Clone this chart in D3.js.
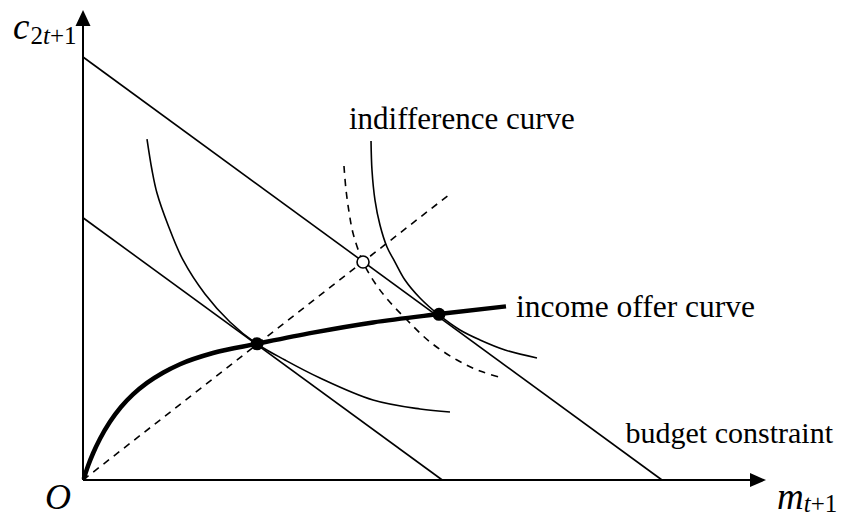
<!DOCTYPE html>
<html>
<head>
<meta charset="utf-8">
<script src="https://cdn.jsdelivr.net/npm/d3@7"></script>
<style>
  html, body { margin: 0; padding: 0; background: #fff; }
  svg { display: block; }
  text { font-family: "Liberation Serif", "Times New Roman", serif; fill: #000; }
</style>
</head>
<body>
<script>
// ---- data (arbitrary units) ----
const xAxisMax = 10;
const yAxisMax = 10;
const outerBudget = [[0, 9.0], [8.477, 0]];
const innerBudget = [[0, 5.58], [5.26, 0]];
const rayLine = [[0, 0], [5.373, 6.085]];
const incomeOfferX = [0.01, 0.073, 0.146, 0.249, 0.395, 0.556, 0.732, 0.937, 1.171, 1.420, 1.903, 2.548, 3.367, 4.246, 5.212, 6.193];
const incomeOfferY = [0.02, 0.298, 0.564, 0.877, 1.238, 1.553, 1.821, 2.066, 2.283, 2.464, 2.702, 2.898, 3.136, 3.353, 3.530, 3.694];
const ic1X = [0.937, 1.010, 1.083, 1.245, 1.464, 1.786, 2.152, 2.548, 2.958, 3.470, 4.246, 4.934, 5.373];
const ic1Y = [7.255, 6.596, 6.106, 5.426, 4.681, 3.957, 3.362, 2.894, 2.553, 2.170, 1.702, 1.511, 1.447];
const ic2X = [4.217, 4.231, 4.275, 4.348, 4.451, 4.568, 4.714, 4.934, 5.212, 5.520, 5.813, 6.179, 6.647];
const ic2Y = [7.213, 6.596, 5.957, 5.426, 4.957, 4.638, 4.255, 3.872, 3.511, 3.191, 2.979, 2.766, 2.596];
const icDashX = [3.821, 3.851, 3.895, 3.953, 4.100, 4.275, 4.466, 4.744, 5.081, 5.476, 5.813, 6.149];
const icDashY = [6.681, 6.170, 5.702, 5.255, 4.638, 4.191, 3.830, 3.404, 2.936, 2.553, 2.319, 2.170];
const filledPoints = [[2.548, 2.898], [5.212, 3.525]];
const openPoints = [[4.100, 4.638]];

// ---- layout ----
const W = 843, H = 517;
const svg = d3.select("body").append("svg").attr("width", W).attr("height", H);

const x = d3.scaleLinear().domain([0, xAxisMax]).range([83, 766]);
const y = d3.scaleLinear().domain([0, yAxisMax]).range([480, 10]);

const zip = (xs, ys) => xs.map((v, i) => [v, ys[i]]);
const straight = d3.line().x(d => x(d[0])).y(d => y(d[1]));
const smooth = d3.line().x(d => x(d[0])).y(d => y(d[1])).curve(d3.curveCatmullRom.alpha(0.5));
const mono = d3.line().x(d => x(d[0])).y(d => y(d[1])).curve(d3.curveMonotoneX);

// axes
svg.append("line").attr("x1", x(0)).attr("y1", y(0)).attr("x2", x(0)).attr("y2", y(yAxisMax) + 12)
  .attr("stroke", "#000").attr("stroke-width", 2);
svg.append("line").attr("x1", x(0)).attr("y1", y(0)).attr("x2", x(xAxisMax) - 12).attr("y2", y(0))
  .attr("stroke", "#000").attr("stroke-width", 2);
// arrowheads
const ty = y(yAxisMax), tx = x(xAxisMax);
svg.append("path").attr("d", `M${x(0)},${ty} L${x(0) - 7.5},${ty + 16} L${x(0) + 7.5},${ty + 16} Z`).attr("fill", "#000");
svg.append("path").attr("d", `M${tx},${y(0)} L${tx - 16},${y(0) - 7} L${tx - 16},${y(0) + 7} Z`).attr("fill", "#000");

// budget lines
[outerBudget, innerBudget].forEach(b => {
  svg.append("path").attr("d", straight(b)).attr("fill", "none").attr("stroke", "#000").attr("stroke-width", 1.6);
});

// dashed ray
svg.append("path").attr("d", straight(rayLine)).attr("fill", "none").attr("stroke", "#000")
  .attr("stroke-width", 1.6).attr("stroke-dasharray", "7,6");

// indifference curves
svg.append("path").attr("d", smooth(zip(ic1X, ic1Y))).attr("fill", "none").attr("stroke", "#000").attr("stroke-width", 1.6);
svg.append("path").attr("d", smooth(zip(ic2X, ic2Y))).attr("fill", "none").attr("stroke", "#000").attr("stroke-width", 1.6);
svg.append("path").attr("d", smooth(zip(icDashX, icDashY))).attr("fill", "none").attr("stroke", "#000")
  .attr("stroke-width", 1.6).attr("stroke-dasharray", "7,6");

// income offer curve
svg.append("path").attr("d", mono(zip(incomeOfferX, incomeOfferY))).attr("fill", "none").attr("stroke", "#000")
  .attr("stroke-width", 4.5).attr("stroke-linecap", "butt");

// points
svg.selectAll("circle.filled").data(filledPoints).join("circle").attr("class", "filled")
  .attr("cx", d => x(d[0])).attr("cy", d => y(d[1])).attr("r", 6.5).attr("fill", "#000");
svg.selectAll("circle.open").data(openPoints).join("circle").attr("class", "open")
  .attr("cx", d => x(d[0])).attr("cy", d => y(d[1])).attr("r", 6).attr("fill", "#fff")
  .attr("stroke", "#000").attr("stroke-width", 1.6);

// labels
const yl = svg.append("text").attr("x", 13).attr("y", 39).attr("font-size", 37);
yl.append("tspan").attr("font-style", "italic").text("c");
yl.append("tspan").attr("font-size", 25).attr("dy", 5).attr("dx", 1).text("2");
yl.append("tspan").attr("font-size", 25).attr("font-style", "italic").text("t");
yl.append("tspan").attr("font-size", 25).text("+1");

const xl = svg.append("text").attr("x", 777).attr("y", 509).attr("font-size", 37);
xl.append("tspan").attr("font-style", "italic").text("m");
xl.append("tspan").attr("font-size", 25).attr("dy", 3).attr("font-style", "italic").text("t");
xl.append("tspan").attr("font-size", 25).text("+1");

svg.append("text").attr("x", 45).attr("y", 509).attr("font-size", 36).attr("font-style", "italic").text("O");

svg.append("text").attr("x", 349).attr("y", 129).attr("font-size", 31).text("indifference curve");
svg.append("text").attr("x", 516).attr("y", 317).attr("font-size", 31.5).text("income offer curve");
svg.append("text").attr("x", 833).attr("y", 443).attr("font-size", 30).attr("text-anchor", "end").text("budget constraint");
</script>
</body>
</html>
